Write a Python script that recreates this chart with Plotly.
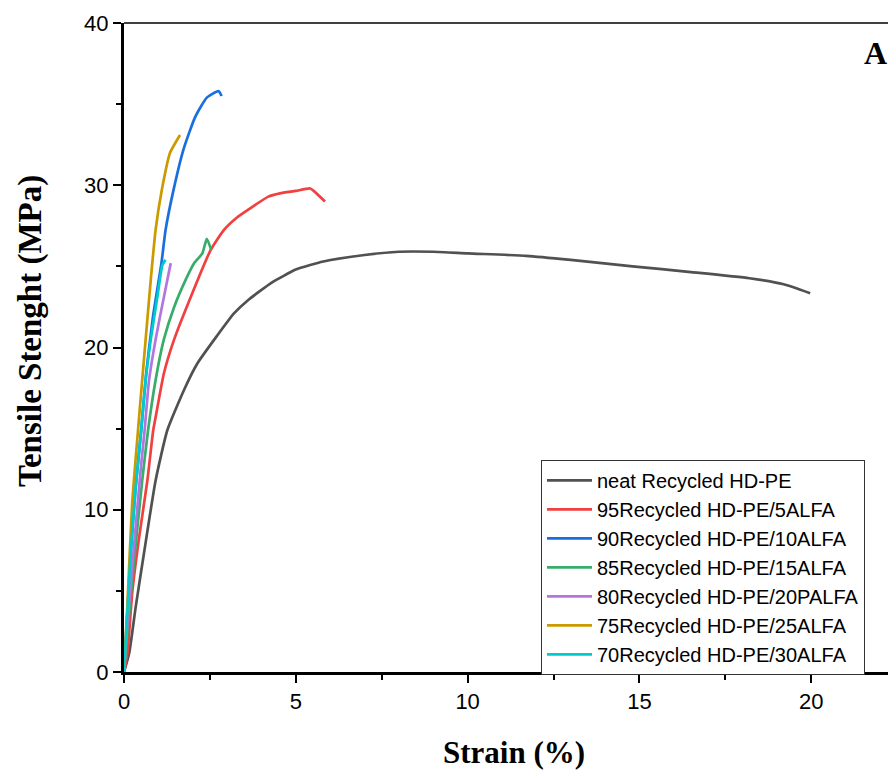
import plotly.graph_objects as go

# strain (%) / stress (MPa)
neat_strain = [0, 0.15, 0.34, 0.58, 0.92, 1.26, 1.75, 2.13, 2.7, 3.2, 3.6, 4.3, 5.0, 5.8, 7.0, 8.0, 9.0,
               10.0, 11.7, 13.0, 14.8, 16.5, 18.2, 19.2, 19.97]
neat_stress = [0, 1.15, 4.0, 7.3, 11.8, 14.9, 17.4, 19.0, 20.7, 22.1, 22.9, 24.0, 24.8, 25.3, 25.7, 25.9, 25.9,
               25.8, 25.65, 25.4, 25.0, 24.65, 24.27, 23.9, 23.35]

alfa5_strain = [0, 0.1, 0.24, 0.44, 0.68, 0.85, 0.92, 1.16, 1.46, 1.94, 2.52, 2.91, 3.28, 3.76, 4.2, 4.54,
                5.0, 5.42, 5.6, 5.85]
alfa5_stress = [0, 1.15, 4.9, 8.3, 11.8, 14.9, 15.7, 18.4, 20.5, 23.1, 26.0, 27.25, 28.0, 28.7, 29.3, 29.5,
                29.65, 29.8, 29.5, 29.0]

alfa10_strain = [0, 0.08, 0.2, 0.34, 0.5, 0.65, 0.85, 1.09, 1.21, 1.44, 1.73, 2.07, 2.41, 2.75, 2.84]
alfa10_stress = [0, 3.0, 7.5, 11.4, 14.9, 18.5, 22.0, 25.2, 27.25, 29.7, 32.2, 34.2, 35.4, 35.8, 35.5]

alfa15_strain = [0, 0.1, 0.3, 0.53, 0.7, 0.92, 1.16, 1.46, 1.8, 2.04, 2.28, 2.41, 2.54]
alfa15_stress = [0, 2.5, 7.0, 11.8, 14.9, 18.0, 20.5, 22.5, 24.2, 25.2, 25.8, 26.7, 26.0]

alfa20_strain = [0, 0.1, 0.3, 0.5, 0.6, 0.73, 0.92, 1.16, 1.36]
alfa20_stress = [0, 3.0, 8.0, 12.8, 14.9, 18.0, 20.5, 23.1, 25.2]

alfa25_strain = [0, 0.1, 0.24, 0.42, 0.49, 0.63, 0.78, 0.92, 1.1, 1.34, 1.63]
alfa25_stress = [0, 4.2, 10.5, 15.2, 17.0, 20.5, 24.2, 27.25, 29.7, 32.0, 33.1]

alfa30_strain = [0, 0.08, 0.2, 0.34, 0.5, 0.63, 0.78, 0.97, 1.12, 1.21]
alfa30_stress = [0, 3.0, 7.5, 11.4, 14.9, 18.0, 20.5, 23.1, 25.1, 25.4]

names = [
    'neat Recycled HD-PE',
    '95Recycled HD-PE/5ALFA',
    '90Recycled HD-PE/10ALFA',
    '85Recycled HD-PE/15ALFA',
    '80Recycled HD-PE/20PALFA',
    '75Recycled HD-PE/25ALFA',
    '70Recycled HD-PE/30ALFA',
]
colors = ['#515151', '#F14040', '#1A6FDF', '#37AD6B', '#B177DE', '#CC9900', '#00CBCC']

curves = [
    (neat_strain, neat_stress),
    (alfa5_strain, alfa5_stress),
    (alfa10_strain, alfa10_stress),
    (alfa15_strain, alfa15_stress),
    (alfa20_strain, alfa20_stress),
    (alfa25_strain, alfa25_stress),
    (alfa30_strain, alfa30_stress),
]

fig = go.Figure()

for (xs, ys), name, color in zip(curves, names, colors):
    fig.add_trace(go.Scatter(
        x=xs, y=ys, name=name, mode='lines',
        line=dict(color=color, width=2.7, shape='spline', smoothing=0.5)
    ))

tick_font = dict(family='Liberation Sans, Arial', size=22, color='black')
serif = 'Liberation Serif, Times New Roman'

fig.update_layout(
    width=896, height=781,
    margin=dict(l=116, r=0, t=15, b=117),
    plot_bgcolor='white', paper_bgcolor='white',
    showlegend=True,
    legend=dict(
        x=0.5346, y=0.3267, xanchor='left', yanchor='top',
        bordercolor='#333333', borderwidth=1, bgcolor='white',
        font=dict(family='Liberation Sans, Arial', size=20, color='black'),
        tracegroupgap=0, itemwidth=45,
    ),
    annotations=[
        dict(text='<b>A</b>', x=0.963, y=0.954, xref='paper', yref='paper',
             xanchor='center', yanchor='middle', showarrow=False,
             font=dict(family=serif, size=32, color='black')),
        dict(text='<b>Tensile Stenght (MPa)</b>', x=-0.1205, y=0.5254, xref='paper', yref='paper',
             xanchor='center', yanchor='middle', textangle=-90, showarrow=False,
             font=dict(family=serif, size=33, color='black')),
    ],
    shapes=[dict(type='line', xref='paper', yref='paper', x0=0, x1=1, y0=1, y1=1,
                 line=dict(color='black', width=1.5))],
)

fig.update_xaxes(
    range=[0, 22.7], tickvals=[0, 5, 10, 15, 20],
    showline=True, linecolor='black', linewidth=3,
    ticks='outside', ticklen=8, tickwidth=2, tickcolor='black',
    minor=dict(ticks='outside', ticklen=5, tickwidth=2, tickcolor='black', dtick=2.5, tick0=0),
    showgrid=False, zeroline=False, tickfont=tick_font,
    title=dict(text='<b>Strain (%)</b>', font=dict(family=serif, size=31, color='black'), standoff=28),
)
fig.update_yaxes(
    range=[0, 40], tickvals=[0, 10, 20, 30, 40],
    showline=True, linecolor='black', linewidth=3,
    ticks='outside', ticklen=8, tickwidth=2, tickcolor='black',
    minor=dict(ticks='outside', ticklen=5, tickwidth=2, tickcolor='black', dtick=5, tick0=0),
    showgrid=False, zeroline=False, tickfont=tick_font,
)

fig.write_html("out.html")
